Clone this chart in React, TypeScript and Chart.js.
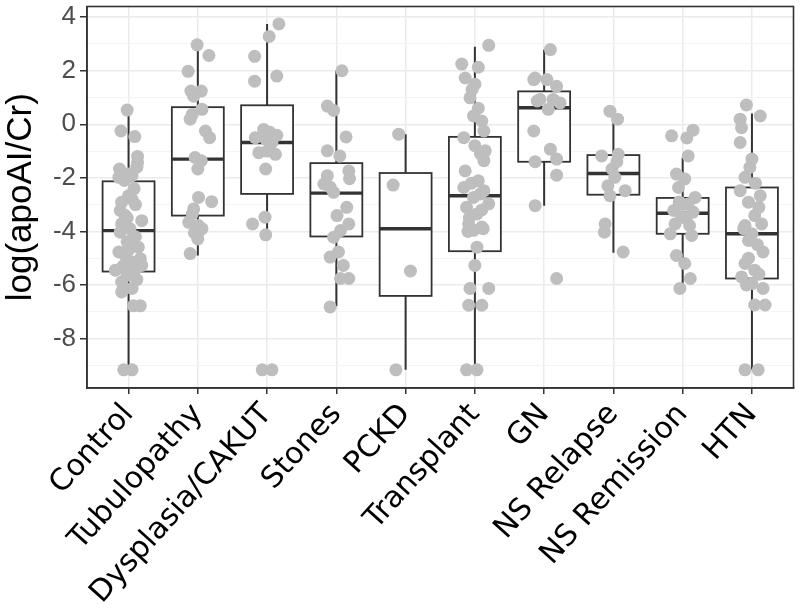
import React, { useEffect, useRef } from 'react';
import { Chart, registerables } from 'chart.js';

Chart.register(...registerables);

const categories = ['Control', 'Tubulopathy', 'Dysplasia/CAKUT', 'Stones', 'PCKD', 'Transplant', 'GN', 'NS Relapse', 'NS Remission', 'HTN'];
const yMajorTicks = [-8, -6, -4, -2, 0, 2, 4];
const yMinorTicks = [-9, -7, -5, -3, -1, 1, 3];

// box statistics
const whiskerLow = [-9.17, -4.9, -4.1, -6.8, -9.17, -9.17, -3.04, -4.8, -6.0, -9.17];
const q1 = [-5.5, -3.41, -2.6, -4.19, -6.41, -4.74, -1.4, -2.63, -4.09, -5.76];
const medians = [-3.97, -1.3, -0.68, -2.57, -3.9, -2.67, 0.62, -1.84, -3.32, -4.09];
const q3 = [-2.13, 0.64, 0.71, -1.45, -1.82, -0.47, 1.23, -1.15, -2.75, -2.36];
const whiskerHigh = [0.5, 2.95, 3.75, 2.0, -0.37, 2.9, 2.78, 0.45, -1.24, 0.4];

// observations (values) and their horizontal jitter (in category units)
const controlY = [0.53, -0.25, -0.46, -1.2, -1.43, -1.67, -1.86, -1.98, -1.92, -1.6, -2.4, -2.67, -2.91, -3.0, -3.22, -3.4, -3.6, -3.72, -3.9, -4.03, -4.2, -4.4, -4.59, -4.77, -4.9, -5.02, -5.14, -5.27, -5.4, -5.45, -5.64, -5.8, -5.89, -6.13, -6.26, -6.78, -6.78, -9.17, -9.17, -2.1, -2.8, -3.5, -4.3, -4.7, -5.3, -5.6];
const controlJitter = [-0.02, -0.11, 0.09, 0.13, 0.13, -0.13, 0, -0.14, 0.05, 0.12, 0.08, 0, -0.1, 0.1, -0.12, -0.05, 0.19, -0.1, 0.02, -0.12, 0.1, -0.02, 0.14, -0.14, -0.05, 0.17, 0.05, 0.19, 0.1, -0.19, -0.02, 0.12, -0.1, 0.05, -0.1, 0.07, 0.17, -0.07, 0.05, -0.06, 0.05, -0.02, 0.05, 0.0, -0.08, 0.04];

const tubulopathyY = [2.97, 2.57, 1.98, 1.24, 1.24, 1.05, 0.56, 0.37, 0.19, -0.25, -0.5, -1.24, -1.36, -1.67, -2.73, -2.89, -3.16, -3.35, -3.66, -3.78, -3.9, -4.05, -4.15, -4.28, -4.83];
const tubulopathyJitter = [-0.01, 0.16, -0.14, -0.1, 0.05, -0.06, 0.06, -0.08, -0.11, 0.11, 0.17, -0.04, 0.05, 0, 0.01, 0.2, -0.06, -0.08, -0.13, 0.01, 0.06, -0.05, -0.01, 0, -0.11];

const dysplasiaY = [3.75, 3.28, 2.54, 1.8, 1.61, -0.19, -0.3, -0.41, -0.5, -0.55, -0.68, -1.0, -1.06, -1.12, -1.67, -3.47, -3.72, -4.13, -9.17, -9.17];
const dysplasiaJitter = [0.17, 0.03, -0.18, 0.14, -0.18, -0.05, 0.04, 0.14, -0.17, -0.02, 0.07, 0, -0.12, 0.12, -0.02, -0.03, -0.21, -0.02, -0.07, 0.07];

const stonesY = [2.0, 0.68, 0.52, -0.47, -0.99, -1.18, -1.74, -1.92, -2.03, -2.23, -2.35, -2.54, -3.1, -3.41, -3.72, -3.97, -4.22, -4.77, -4.96, -5.27, -5.76, -5.76, -6.82];
const stonesJitter = [0.08, -0.13, -0.04, 0.14, -0.13, 0.05, 0.18, -0.13, 0.19, -0.18, -0.09, -0.04, 0.15, 0.01, 0.18, 0.06, -0.04, 0.03, -0.09, 0.1, 0.06, 0.18, -0.09];

const pckdY = [-0.37, -2.27, -5.48, -9.17];
const pckdJitter = [-0.1, -0.18, 0.07, -0.14];

const transplantY = [2.95, 2.25, 2.13, 1.73, 1.3, 0.99, 0.31, 0.12, -0.25, -0.5, -0.99, -1.36, -1.74, -2.11, -2.36, -2.48, -2.73, -2.97, -3.1, -3.35, -3.72, -3.84, -3.96, -4.59, -5.27, -6.13, -6.13, -6.76, -6.76, -9.17, -9.17, 1.5, 0.6, -0.8, -1.1, -2.2, -2.6, -3.2, -3.5, -3.9, -4.0];
const transplantJitter = [0.2, -0.19, 0.05, -0.14, -0.04, -0.07, -0.02, 0.1, 0.13, -0.16, 0.15, 0.13, -0.14, 0.05, -0.16, 0.13, -0.02, 0.2, -0.12, 0.03, -0.09, 0.1, -0.02, 0.03, 0, -0.07, 0.2, -0.09, 0.1, -0.12, 0.03, 0.0, 0.05, 0.0, 0.08, -0.05, 0.08, 0.1, -0.08, 0.12, -0.1];

const gnY = [2.79, 1.73, 1.67, 1.67, 1.42, 0.93, 0.93, 0.87, 0.8, 0.56, -0.25, -0.93, -1.3, -1.4, -1.9, -3.04, -5.76];
const gnJitter = [0.09, -0.13, 0.04, -0.15, 0.18, -0.06, 0.13, -0.1, 0.23, 0.06, -0.15, 0.09, 0.18, -0.13, 0.18, -0.13, 0.18];

const nsRelapseY = [0.49, 0.19, -1.12, -1.18, -1.4, -1.67, -1.98, -2.3, -2.48, -2.67, -3.72, -4.03, -4.77];
const nsRelapseJitter = [-0.05, 0.06, 0.07, -0.17, 0.05, -0.02, 0.02, -0.08, 0.17, -0.05, -0.12, -0.13, 0.14];

const nsRemissionY = [-0.22, -0.43, -0.51, -1.18, -1.86, -2.04, -2.36, -2.73, -2.9, -2.98, -3.0, -3.22, -3.28, -3.47, -3.5, -3.72, -3.78, -4.09, -4.15, -4.9, -5.2, -5.76, -6.13];
const nsRemissionJitter = [0.15, -0.16, 0.06, 0.08, -0.09, 0.03, -0.06, 0.18, -0.05, 0.08, 0, -0.13, 0.15, -0.01, 0.05, -0.11, 0.1, -0.18, 0.13, -0.09, 0.03, 0.11, -0.04];

const htnY = [0.72, 0.31, 0.19, -0.13, -0.68, -1.61, -1.98, -2.48, -2.67, -2.91, -3.41, -3.72, -3.78, -4.09, -4.34, -4.77, -5.2, -5.45, -5.7, -5.95, -6.13, -6.75, -6.75, -9.17, -9.17, -1.3, -2.2, -3.1, -3.9, -4.5, -5.0, -5.6, -6.0];
const htnJitter = [-0.08, 0.12, -0.17, -0.15, -0.17, -0.03, -0.1, -0.17, 0.12, -0.05, 0.04, 0.14, -0.1, 0, -0.05, 0.16, -0.1, 0.04, -0.15, 0, 0.16, 0.04, 0.19, -0.1, 0.09, 0.0, 0.05, 0.1, -0.12, 0.08, -0.05, 0.1, -0.08];

const groupValues = [controlY, tubulopathyY, dysplasiaY, stonesY, pckdY, transplantY, gnY, nsRelapseY, nsRemissionY, htnY];
const groupJitter = [controlJitter, tubulopathyJitter, dysplasiaJitter, stonesJitter, pckdJitter, transplantJitter, gnJitter, nsRelapseJitter, nsRemissionJitter, htnJitter];

const BOX_HALF = 0.375;
const DARK = '#333333';

const boxPlugin = {
  id: 'boxes',
  beforeDatasetsDraw(chart: any) {
    const { ctx, scales } = chart;
    const x = scales.x;
    const y = scales.y;
    ctx.save();
    ctx.strokeStyle = DARK;
    ctx.lineCap = 'butt';
    for (let i = 0; i < categories.length; i++) {
      const cx = x.getPixelForValue(i);
      const xl = x.getPixelForValue(i - BOX_HALF);
      const xr = x.getPixelForValue(i + BOX_HALF);
      const yq1 = y.getPixelForValue(q1[i]);
      const yq3 = y.getPixelForValue(q3[i]);
      const ymed = y.getPixelForValue(medians[i]);
      const ylo = y.getPixelForValue(whiskerLow[i]);
      const yhi = y.getPixelForValue(whiskerHigh[i]);
      ctx.lineWidth = 2;
      ctx.beginPath();
      ctx.moveTo(cx, yq3);
      ctx.lineTo(cx, yhi);
      ctx.moveTo(cx, yq1);
      ctx.lineTo(cx, ylo);
      ctx.stroke();
      ctx.fillStyle = '#ffffff';
      ctx.fillRect(xl, yq3, xr - xl, yq1 - yq3);
      ctx.lineWidth = 1.8;
      ctx.strokeRect(xl, yq3, xr - xl, yq1 - yq3);
      ctx.lineWidth = 3.4;
      ctx.beginPath();
      ctx.moveTo(xl, ymed);
      ctx.lineTo(xr, ymed);
      ctx.stroke();
    }
    ctx.restore();
  },
  afterDatasetsDraw(chart: any) {
    const { ctx, chartArea } = chart;
    ctx.save();
    ctx.strokeStyle = DARK;
    ctx.lineWidth = 1.6;
    ctx.strokeRect(chartArea.left, chartArea.top, chartArea.right - chartArea.left, chartArea.bottom - chartArea.top);
    ctx.restore();
  },
};

export default function App() {
  const canvasRef = useRef<HTMLCanvasElement | null>(null);

  useEffect(() => {
    if (!canvasRef.current) return;
    const datasets = groupValues.map((vals, i) => ({
      label: categories[i],
      data: vals.map((v, k) => ({ x: i + groupJitter[i][k], y: v })),
      backgroundColor: '#bebebe',
      borderColor: '#bebebe',
      borderWidth: 0,
      pointRadius: 6.5,
      pointHoverRadius: 6.5,
    }));
    const isMajor = (v: number) => yMajorTicks.includes(v);
    const chart = new Chart(canvasRef.current, {
      type: 'scatter',
      data: { datasets },
      plugins: [boxPlugin],
      options: {
        animation: false,
        responsive: false,
        devicePixelRatio: 1,
        layout: { padding: { top: 6, right: 6, left: 0, bottom: 0 } },
        plugins: { legend: { display: false }, tooltip: { enabled: false } },
        scales: {
          x: {
            type: 'linear',
            min: -0.6,
            max: 9.6,
            afterBuildTicks: (s: any) => {
              s.ticks = categories.map((_, i) => ({ value: i }));
            },
            afterFit: (s: any) => {
              s.height = 228;
              s.paddingLeft = 0;
              s.paddingRight = 0;
            },
            ticks: {
              autoSkip: false,
              minRotation: 48,
              maxRotation: 48,
              padding: 3,
              color: '#000000',
              font: { family: 'DejaVu Sans', size: 30 },
              callback: (v: any) => categories[v] ?? '',
            },
            grid: { color: '#ebebeb', lineWidth: 1.5, tickColor: DARK, tickLength: 6 },
            border: { display: true, color: DARK, width: 1.6 },
          },
          y: {
            type: 'linear',
            min: -9.85,
            max: 4.4,
            afterBuildTicks: (s: any) => {
              s.ticks = [...yMinorTicks, ...yMajorTicks].sort((a, b) => a - b).map((v) => ({ value: v }));
            },
            afterFit: (s: any) => {
              s.width = 87;
              s.paddingTop = 0;
              s.paddingBottom = 0;
            },
            ticks: {
              autoSkip: false,
              padding: 4,
              color: '#4d4d4d',
              font: { family: 'Liberation Sans', size: 26 },
              callback: (v: any) => (isMajor(v) ? String(v) : ''),
            },
            grid: {
              color: (c: any) => (isMajor(c.tick?.value) ? '#ebebeb' : '#f4f4f4'),
              lineWidth: (c: any) => (isMajor(c.tick?.value) ? 1.5 : 1),
              tickColor: (c: any) => (isMajor(c.tick?.value) ? DARK : 'rgba(0,0,0,0)'),
              tickLength: 7,
            },
            border: { display: true, color: DARK, width: 1.6 },
            title: {
              display: true,
              text: 'log(apoAI/Cr)',
              color: '#000000',
              font: { family: 'Liberation Sans', size: 35 },
              padding: { top: 0, bottom: 0 },
            },
          },
        },
      },
    } as any);
    return () => chart.destroy();
  }, []);

  return (
    <div style={{ position: 'absolute', left: 0, top: 0, width: 800, height: 616, background: '#ffffff' }}>
      <canvas ref={canvasRef} width={800} height={616} />
    </div>
  );
}
